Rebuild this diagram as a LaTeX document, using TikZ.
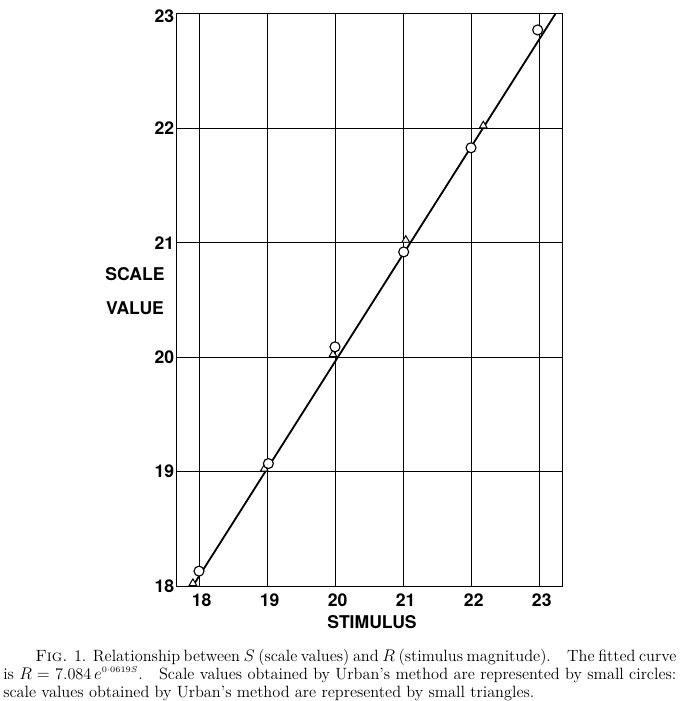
\documentclass[tikz,border=0pt]{standalone}
\usepackage{fontspec}
\newfontfamily\labelfont{TeX Gyre Heros}
\usetikzlibrary{shapes.geometric}
\tikzset{
	gridline/.style={draw=black, line width=0.6pt},
	fitline/.style={draw=black, line width=1.3pt},
	circlemark/.style={circle, draw=black, fill=white, line width=0.8pt, inner sep=0pt, minimum size=0.25cm},
	trianglemark/.style={regular polygon, regular polygon sides=3, draw=black, fill=white, line width=0.7pt, inner sep=0pt, minimum size=0.22cm, anchor=south},
	axislabel/.style={font=\labelfont\bfseries\fontsize{12.5}{14}\selectfont, inner sep=0pt},
	captiontext/.style={anchor=north west, inner sep=0pt, text width=16.825cm, align=justify, font=\fontsize{11.6}{12.8}\selectfont},
}
\begin{document}
\begin{tikzpicture}[x=1.7cm,y=2.86cm]
		\useasboundingbox (15.074,16.995) rectangle (25.088,23.122);
		\draw[gridline]  (17.67,18) rectangle (23.34,23) ;
		\draw[gridline]  (18,18) -- (18,23) ;
		\draw[gridline]  (19,18) -- (19,23) ;
		\draw[gridline]  (20,18) -- (20,23) ;
		\draw[gridline]  (21,18) -- (21,23) ;
		\draw[gridline]  (22,18) -- (22,23) ;
		\draw[gridline]  (23,18) -- (23,23) ;
		\draw[gridline]  (17.67,19) -- (23.34,19) ;
		\draw[gridline]  (17.67,20) -- (23.34,20) ;
		\draw[gridline]  (17.67,21) -- (23.34,21) ;
		\draw[gridline]  (17.67,22) -- (23.34,22) ;
		\coordinate (fitstart) at (17.91,18);
		\coordinate (fitend) at (23.24,23);
		\draw[fitline]  (fitstart) -- (fitend) ;
		\node[trianglemark] (t18) at (17.91,18) {};
		\node[trianglemark] (t19) at (18.96,19) {};
		\node[trianglemark] (t20) at (19.97,20) {};
		\node[trianglemark] (t21) at (21.04,21) {};
		\node[trianglemark] (t22) at (22.18,22) {};
		\node[circlemark] (c18) at (18.00,18.13) {};
		\node[circlemark] (c19) at (19.02,19.07) {};
		\node[circlemark] (c20) at (20.00,20.09) {};
		\node[circlemark] (c21) at (21.01,20.92) {};
		\node[circlemark] (c22) at (22.00,21.83) {};
		\node[circlemark] (c23) at (22.98,22.86) {};
		\node[axislabel, anchor=east] (y18) at (17.64,18) {18};
		\node[axislabel, anchor=east] (y19) at (17.64,19) {19};
		\node[axislabel, anchor=east] (y20) at (17.64,20) {20};
		\node[axislabel, anchor=east] (y21) at (17.64,21) {21};
		\node[axislabel, anchor=east] (y22) at (17.64,22) {22};
		\node[axislabel, anchor=east] (y23) at (17.64,22.98) {23};
		\node[axislabel] (x18) at (18.04,17.88) {18};
		\node[axislabel] (x19) at (19.04,17.88) {19};
		\node[axislabel] (x20) at (20.04,17.88) {20};
		\node[axislabel] (x21) at (21.04,17.88) {21};
		\node[axislabel] (x22) at (22.04,17.88) {22};
		\node[axislabel] (x23) at (23.04,17.88) {23};
		\node[axislabel] (xtitle) at (20.544,17.688) {STIMULUS};
		\node[axislabel] (ytitle1) at (17.059,20.727) {SCALE};
		\node[axislabel] (ytitle2) at (17.059,20.430) {VALUE};
		\node[captiontext] (caption) at (15.118,17.453) {\hspace*{0.8cm}\textsc{Fig.} \oldstylenums{1}. Relationship between $S$ (scale values) and $R$ (stimulus magnitude).\quad The fitted curve\linebreak is $R =$ \oldstylenums{7.084}\,$e^{\scriptscriptstyle 0\cdot0619S}$.\quad Scale values obtained by Urban's method are represented by small circles:\linebreak scale values obtained by Urban's method are represented by small triangles.};
	\end{tikzpicture}
\end{document}
